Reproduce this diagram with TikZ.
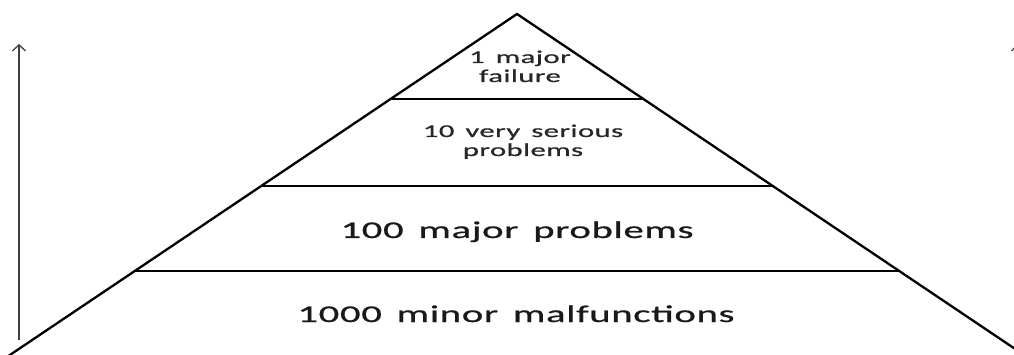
\documentclass[tikz,border=0pt]{standalone}
\usepackage{fontspec}
\setmainfont{Carlito}
\newfontfamily\tierfont[FakeStretch=1.7,FakeBold=0.8,LetterSpace=2.5,WordSpace=1.5]{Carlito}
\usetikzlibrary{arrows.meta}
\begin{document}
\begin{tikzpicture}[x=1pt,y=-1pt,
  side/.style={line width=2.3pt, black},
  tierline/.style={line width=2pt, black},
  axis/.style={line width=1.3pt, black!75, -{Straight Barb[length=6pt,width=13pt]}},
  small/.style={text=black!85, align=center, inner sep=0pt, anchor=base,
    font=\tierfont\fontsize{18}{19}\selectfont},
  large/.style={text=black!90, inner sep=0pt, anchor=base,
    font=\tierfont\fontsize{24}{28}\selectfont}
]
\useasboundingbox (0,0) rectangle (1014,355);
\clip (0,0) rectangle (1014,355);

% pyramid outline: apex and the two sides run past the lower edge
\coordinate (apex) at (517,14);
\coordinate (baseL) at (-5,365);
\coordinate (baseR) at (1039,365);
\draw[side] (baseL) -- (apex) -- (baseR);

% tier boundaries
\coordinate (t1L) at (391,99);  \coordinate (t1R) at (643,99);
\coordinate (t2L) at (261,186); \coordinate (t2R) at (773,186);
\coordinate (t3L) at (135,271); \coordinate (t3R) at (899,271);
\draw[tierline] (t1L) -- (t1R);
\draw[tierline] (t2L) -- (t2R);
\draw[tierline] (t3L) -- (t3R);

% vertical axes at both sides
\coordinate (axL0) at (19,340); \coordinate (axL1) at (19,44);
\coordinate (axR0) at (1018,340); \coordinate (axR1) at (1018,44);
\draw[axis] (axL0) -- (axL1);
\draw[axis] (axR0) -- (axR1);

% tier labels (base anchor sits on the last line)
\node[small] (top) at (520,82) {1 major\\failure};
\node[small] (second) at (523,156) {10 very serious\\problems};
\node[large] (third) at (517,238) {100 major problems};
\node[large] (base) at (516,322) {1000 minor malfunctions};
\end{tikzpicture}
\end{document}
